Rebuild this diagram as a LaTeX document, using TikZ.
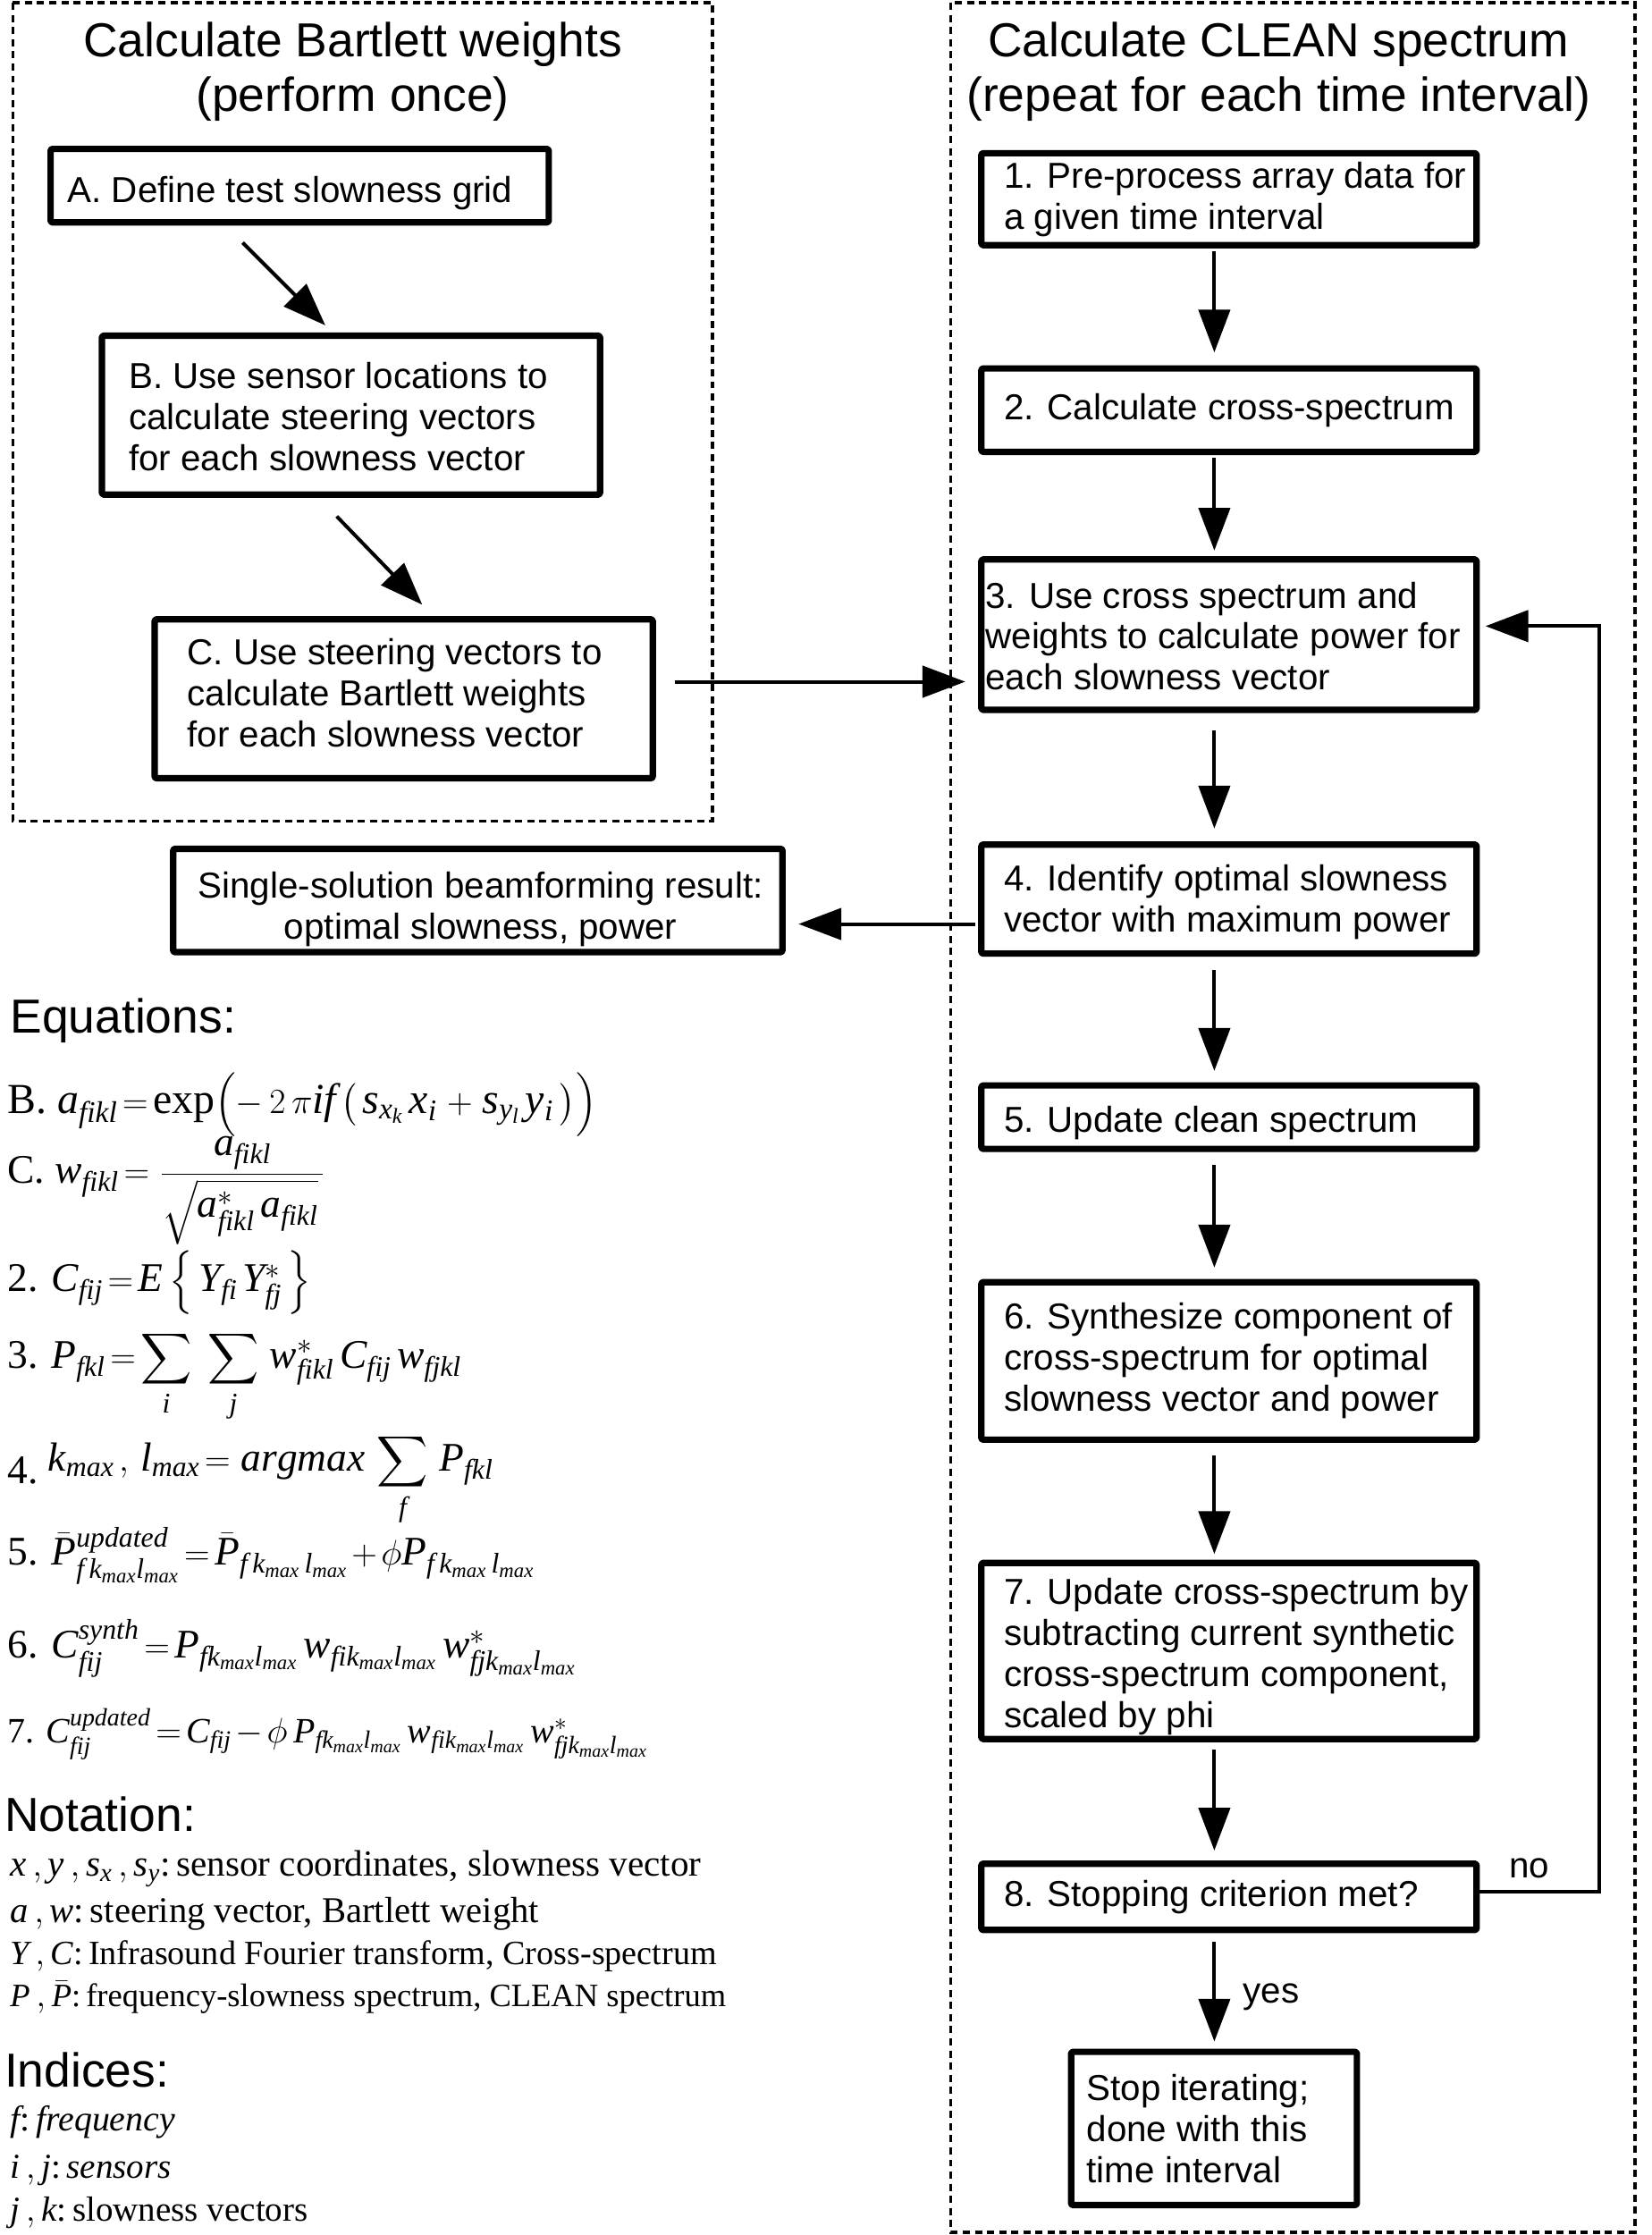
\documentclass[tikz,border=0pt]{standalone}
\usepackage{exscale}
\usepackage{fontspec}
\setmainfont{Liberation Serif}
\setsansfont{Liberation Sans}
\newfontfamily\eqfont[NFSSFamily=lserif]{Liberation Serif}
\DeclareSymbolFont{lsit}{TU}{lserif}{m}{it}
\makeatletter
\@tfor\x:=abcdefghijklmnopqrstuvwxyzABCDEFGHIJKLMNOPQRSTUVWXYZ\do{%
  \edef\tmp{\noexpand\DeclareMathSymbol{\x}{\noexpand\mathalpha}{lsit}{`\x}}\tmp}
\makeatother
\usetikzlibrary{arrows.meta,calc}
\newcommand\eqsp{\thickmuskip=2.5mu\medmuskip=2mu\relax}
\tikzset{
  box/.style={draw, line width=4.5pt, line join=round, rounded corners=1pt, inner sep=0pt, anchor=north west},
  txt/.style={font=\sffamily\fontsize{25.3}{28.7}\selectfont, align=left, inner sep=0pt, anchor=west},
  ctxt/.style={font=\sffamily\fontsize{25.3}{28.7}\selectfont, align=center, inner sep=0pt},
  ttl/.style={font=\sffamily\fontsize{33.5}{38}\selectfont, inner sep=0pt, anchor=base},
  head/.style={font=\sffamily\fontsize{33.5}{38}\selectfont, inner sep=0pt, anchor=base west},
  lbl/.style={font=\sffamily\fontsize{25.3}{28.7}\selectfont, inner sep=0pt},
  eqn/.style={font=\fontsize{28.5}{32}\selectfont\eqsp, inner sep=0pt, anchor=base west},
  note/.style={inner sep=0pt, anchor=base west},
  arr/.style={line width=2.5pt, -{Triangle[length=30pt,width=22pt]}},
  frame/.style={draw, line width=2.2pt, dash pattern=on 5pt off 3.5pt},
}
\newcommand\bx[5]{\node[box, minimum width={#4-#2-4.5}, minimum height={#5-#3-4.5}] (#1) at ({#2+2.25},{#3+2.25}) {};}
\newcommand\fs[1]{\fontsize{#1}{#1}\selectfont}
\begin{document}
\begin{tikzpicture}[x=1pt,y=-1pt]
\useasboundingbox[fill=white] (0,0) rectangle (1159,1568);
% frames
\draw[frame] (9,2) rectangle (500,576);
\draw[frame] (667,2) rectangle (1147,1566);
% titles
\node[ttl] (tl1) at (247.5,40) {Calculate Bartlett weights};
\node[ttl] (tl2) at (247.5,78) {(perform once)};
\node[ttl] (tr1) at (897,40) {Calculate CLEAN spectrum};
\node[ttl] (tr2) at (897,78) {(repeat for each time interval)};
% left boxes
\bx{bA}{31}{100}{385}{156}
\node[txt] (tA) at ($(bA.west)+(14,5)$) {A. Define test slowness grid};
\bx{bB}{67}{231}{421}{347}
\node[txt] (tB) at ($(bB.west)+(21,1)$) {B. Use sensor locations to\\calculate steering vectors\\for each slowness vector};
\bx{bC}{104}{430}{458}{546}
\node[txt] (tC) at ($(bC.west)+(25,-4)$) {C. Use steering vectors to\\calculate Bartlett weights\\for each slowness vector};
\bx{bS}{117}{591}{549}{668}
\node[ctxt] (tS) at ($(bS.center)+(2,6)$) {Single-solution beamforming result:\\optimal slowness, power};
% right boxes
\bx{b1}{684}{103}{1036}{172}
\node[txt] (t1) at ($(b1.west)+(18,0)$) {1. Pre-process array data for\\a given time interval};
\bx{b2}{684}{254}{1036}{317}
\node[txt] (t2) at ($(b2.west)+(18,0)$) {2. Calculate cross-spectrum};
\bx{b3}{684}{388}{1036}{498}
\node[txt] (t3) at ($(b3.west)+(5,1)$) {3. Use cross spectrum and\\weights to calculate power for\\each slowness vector};
\bx{b4}{684}{588}{1036}{669}
\node[txt] (t4) at ($(b4.west)+(18,2)$) {4. Identify optimal slowness\\vector with maximum power};
\bx{b5}{684}{757}{1036}{806}
\node[txt] (t5) at ($(b5.west)+(18,4)$) {5. Update clean spectrum};
\bx{b6}{684}{895}{1036}{1010}
\node[txt] (t6) at ($(b6.west)+(18,0)$) {6. Synthesize component of\\cross-spectrum for optimal\\slowness vector and power};
\bx{b7}{684}{1092}{1036}{1220}
\node[txt] (t7) at ($(b7.west)+(18,4)$) {7. Update cross-spectrum by\\subtracting current synthetic\\cross-spectrum component,\\scaled by phi};
\bx{b8}{684}{1303}{1036}{1354}
\node[txt] (t8) at ($(b8.west)+(18,0)$) {8. Stopping criterion met?};
\bx{bE}{747}{1435}{952}{1547}
\node[txt] (tE) at ($(bE.west)+(13,0)$) {Stop iterating;\\done with this\\time interval};
% connectors
\coordinate (axis) at (852,0);
\draw[arr] ($(bA.south west)+(137,12)$) -- ($(bB.north west)+(159,-5)$);
\draw[arr] ($(bB.south west)+(167,13)$) -- ($(bC.north west)+(190,-8)$);
\draw[arr] ($(bC.east)+(13,-12)$) -- ++(204,0);
\draw[arr] ($(b4.west)+(-2,17.5)$) -- ++(-124,0);
\draw[arr] ($(b1.south -| axis)+(0,2)$) -- ($(b2.north -| axis)+(0,-9)$);
\draw[arr] ($(b2.south -| axis)+(0,2)$) -- ($(b3.north -| axis)+(0,-4)$);
\draw[arr] ($(b3.south -| axis)+(0,12)$) -- ($(b4.north -| axis)+(0,-9)$);
\draw[arr] ($(b4.south -| axis)+(0,9)$) -- ($(b5.north -| axis)+(0,-8)$);
\draw[arr] ($(b5.south -| axis)+(0,9)$) -- ($(b6.north -| axis)+(0,-8)$);
\draw[arr] ($(b6.south -| axis)+(0,9)$) -- ($(b7.north -| axis)+(0,-4)$);
\draw[arr] ($(b7.south -| axis)+(0,5)$) -- ($(b8.north -| axis)+(0,-7)$);
\draw[arr] ($(b8.south -| axis)+(0,6)$) -- ($(bE.north -| axis)+(0,-5)$);
\draw[arr] ($(b8.east)+(0,-3.5)$) -- ++(84,0) |- ($(b3.east)+(4,-6)$);
\node[lbl] (no) at (1073,1311) {no};
\node[lbl] (yes) at (892,1401) {yes};
% equations
\node[head] (heq) at (7,725) {Equations:};
\node[eqn, font=\fontsize{30}{34}\selectfont\eqsp] (eqB) at (5,781) {B. $a_{fikl}=\exp\Bigl(-\,2\,\pi if\;\bigl(\;s_{x_k}\,x_i\,+\,s_{y_l}\,y_i\,\bigr)\Bigr)$};
\node[eqn] (eqC) at (5,830) {C. $w_{fikl}=\,{\displaystyle\frac{\;a_{fikl}\;}{\sqrt{a^{*}_{fikl}\,a_{fikl}}\;}}$};
\node[eqn] (eq2) at (5,906) {2. $C_{fij}=E\,\Bigl\{\,Y_{fi}\;Y^{*}_{fj}\,\Bigr\}$};
\node[eqn] (eq3) at (5,960) {3. $\displaystyle P_{fkl}=\sum_i\;\;\sum_j\;w^{*}_{fikl}\,C_{fij}\,w_{fjkl}$};
\node[eqn] (eq4) at (5,1032) {\raisebox{-0.3em}{4.} $\displaystyle k_{max}\;,\,l_{max}=\,argmax\,\sum_f\;P_{fkl}$};
\node[eqn] (eq5) at (5,1098) {5. $\bar P^{updated}_{f\,k_{max}l_{max}}=\bar P_{f\,k_{max}\,l_{max}}+\phi P_{f\,k_{max}\,l_{max}}$};
\node[eqn] (eq6) at (5,1163) {6. $C^{synth}_{fij}=P_{fk_{max}l_{max}}\,w_{fik_{max}l_{max}}\,w^{*}_{fjk_{max}l_{max}}$};
\node[eqn, font=\fontsize{25}{29}\selectfont\eqsp] (eq7) at (5,1223) {7. $C^{updated}_{fij}=C_{fij}-\phi\,P_{fk_{max}l_{max}}\,w_{fik_{max}l_{max}}\,w^{*}_{fjk_{max}l_{max}}$};
% notation
\node[head] (hno) at (3,1285) {Notation:};
\node[note, font=\fs{25.8}] (n1) at (7,1316) {$x\,,y\,,s_x\,,s_y$:\,sensor coordinates, slowness vector};
\node[note, font=\fs{25.5}] (n2) at (7,1349) {$a\,,w$:\,steering vector, Bartlett weight};
\node[note, font=\fs{23.9}] (n3) at (7,1378) {$Y\,,C$:\,Infrasound Fourier transform, Cross-spectrum};
\node[note, font=\fs{22.9}] (n4) at (7,1408) {$P\,,\bar P$:\,frequency-slowness spectrum, CLEAN spectrum};
\node[head] (hin) at (3,1464) {Indices:};
\node[note, font=\fs{25}] (i1) at (7,1495) {$f$:\,\textit{frequency}};
\node[note, font=\fs{24.5}] (i2) at (7,1528) {$i\,,j$:\,\textit{sensors}};
\node[note, font=\fs{24.5}] (i3) at (7,1558) {$j\,,k$:\,slowness vectors};
\end{tikzpicture}
\end{document}
